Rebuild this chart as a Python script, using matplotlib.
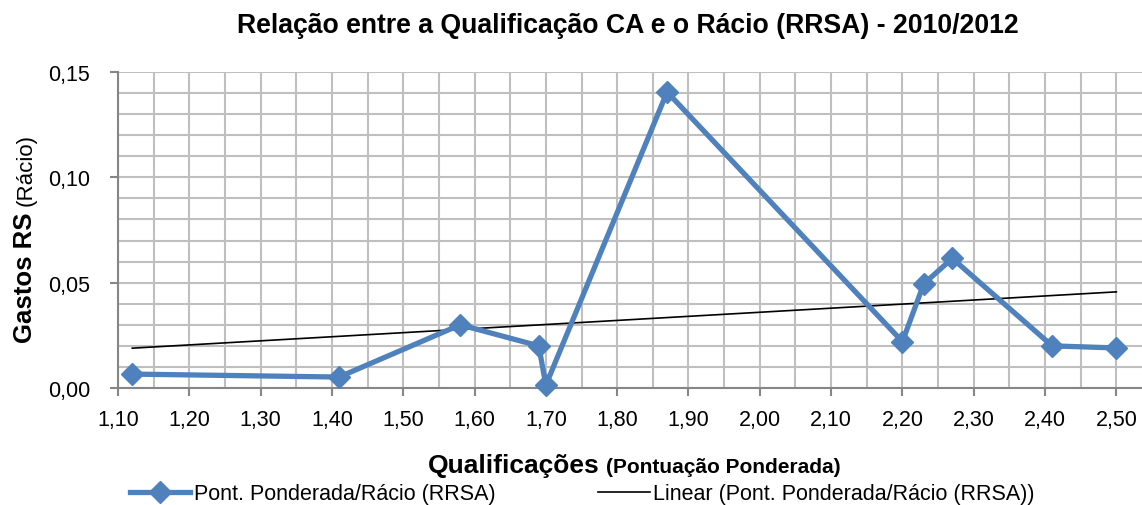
import numpy as np
import matplotlib
matplotlib.use('Agg')
import matplotlib.pyplot as plt
from matplotlib.ticker import MultipleLocator, FuncFormatter
from matplotlib.lines import Line2D

# data
xValues = [1.12, 1.41, 1.58, 1.69, 1.70, 1.87, 2.20, 2.23, 2.27, 2.41, 2.50]
yValues = [0.0066, 0.0052, 0.0300, 0.0200, 0.0014, 0.1405, 0.0220, 0.0495, 0.0615, 0.0200, 0.0190]

seriesName = 'Pont. Ponderada/Rácio (RRSA)'
trendName = 'Linear (Pont. Ponderada/Rácio (RRSA))'
titleText = 'Relação entre a Qualificação CA e o Rácio (RRSA) - 2010/2012'

W, H = 1142, 506
blue = '#4F81BD'
gridColor = '#BFBFBF'
axisColor = '#868686'
arial = ['Liberation Sans', 'DejaVu Sans']

plt.rcParams['font.family'] = arial

def commaFmt(fmt):
    return FuncFormatter(lambda v, pos: (fmt % v).replace('.', ','))

fig = plt.figure(figsize=(W / 100.0, H / 100.0), dpi=100)
# plot area runs past the right edge of the picture, as in the original
left, right, top, bottom = 118, 1152, 73, 389
ax = fig.add_axes([left / W, 1 - bottom / H, (right - left) / W, (bottom - top) / H])

ax.set_xlim(1.10, 2.55)
ax.set_ylim(0.0, 0.15)
ax.xaxis.set_major_locator(MultipleLocator(0.10))
ax.xaxis.set_minor_locator(MultipleLocator(0.05))
ax.yaxis.set_major_locator(MultipleLocator(0.05))
ax.yaxis.set_minor_locator(MultipleLocator(0.01))
ax.xaxis.set_major_formatter(commaFmt('%.2f'))
ax.yaxis.set_major_formatter(commaFmt('%.2f'))

ax.grid(True, which='both', color=gridColor, linewidth=1.5)
ax.set_axisbelow(True)
for s in ['top', 'right']:
    ax.spines[s].set_visible(False)
for s in ['left', 'bottom']:
    ax.spines[s].set_color(axisColor)
    ax.spines[s].set_linewidth(1.5)
ax.tick_params(which='major', direction='out', length=6, width=1.5, color=axisColor,
               labelsize=15.5)
ax.tick_params(axis='x', which='major', pad=9)
ax.tick_params(axis='y', which='major', pad=14)
ax.tick_params(which='minor', length=0)

# trend line from a least squares fit of the series
slope, icept = np.polyfit(xValues, yValues, 1)
xFit = np.array([min(xValues), max(xValues)])
ax.plot(xFit, slope * xFit + icept, color='black', linewidth=1.2, zorder=3)

ax.plot(xValues, yValues, color=blue, linewidth=3.8, marker='D', markersize=11,
        markerfacecolor=blue, markeredgecolor=blue, zorder=4, clip_on=False)

fig.text(628 / W, 1 - 26 / H, titleText, ha='center', va='center',
         fontsize=19.2, fontweight='bold')

# x axis title, bold main part and smaller part
fig.text(600 / W, 1 - 473 / H, 'Qualificações', ha='right', va='baseline',
         fontsize=19, fontweight='bold')
fig.text(606 / W, 1 - 473 / H, '(Pontuação Ponderada)', ha='left', va='baseline',
         fontsize=15, fontweight='bold')

# y axis title: bold part first, then the normal part just above it
gastos = fig.text(32 / W, 1 - 343 / H, 'Gastos RS', ha='left', va='baseline', rotation=90,
                  rotation_mode='anchor', fontsize=18.5, fontweight='bold')
fig.canvas.draw()
topPx = gastos.get_window_extent().y1
fig.text(32 / W, (topPx + 6) / H, '(Rácio)', ha='left', va='baseline', rotation=90,
         rotation_mode='anchor', fontsize=16)

lineHandle = Line2D([], [], color=blue, linewidth=3.8, marker='D', markersize=11)
trendHandle = Line2D([], [], color='black', linewidth=1.2)
legendY = 1 - 495 / H
leg1 = fig.legend([lineHandle], [seriesName], loc='center left', bbox_to_anchor=(130 / W, legendY),
                  frameon=False, handlelength=2.8, handletextpad=0.15, borderpad=0,
                  borderaxespad=0, prop={'size': 15.5})
leg2 = fig.legend([trendHandle], [trendName], loc='center left', bbox_to_anchor=(598 / W, legendY),
                  frameon=False, handlelength=2.4, handletextpad=0.15, borderpad=0,
                  borderaxespad=0, prop={'size': 15.5})

fig.savefig('out.png', dpi=100)
